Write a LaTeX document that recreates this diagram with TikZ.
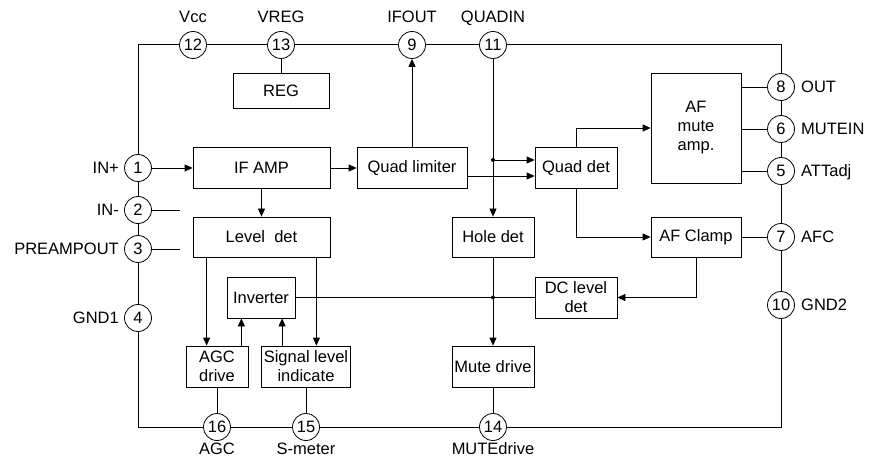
\documentclass[tikz,border=0pt]{standalone}
\usepackage{fontspec}
\setmainfont{Liberation Sans}
\usetikzlibrary{arrows.meta,calc}
\begin{document}
\begin{tikzpicture}[x=1pt,y=-1pt,
  every node/.style={font=\fontsize{16.5}{19}\selectfont},
  blk/.style={draw,line width=0.8pt,inner sep=0pt,align=center},
  pin/.style={draw,circle,fill=white,line width=0.8pt,minimum size=27pt,inner sep=0pt},
  lbl/.style={inner sep=0pt,text depth=0pt},
  con/.style={line width=0.8pt},
  arr/.style={con,-{Triangle[length=8pt,width=7pt]}},
  jdot/.style={circle,fill,inner sep=0pt,minimum size=4pt}]
\useasboundingbox (0,0) rectangle (870,465);
% frame
\draw[line width=1pt] (138,45) rectangle (781,427);
% pins
\node[pin] (p12) at (193,45) {12};
\node[pin] (p13) at (281,45) {13};
\node[pin] (p9) at (412,45) {9};
\node[pin] (p11) at (493,45) {11};
\node[pin] (p8) at (781,87) {8};
\node[pin] (p6) at (781,129) {6};
\node[pin] (p5) at (781,171) {5};
\node[pin] (p7) at (781,237) {7};
\node[pin] (p10) at (781,305) {10};
\node[pin] (p1) at (138,168) {1};
\node[pin] (p2) at (138,210) {2};
\node[pin] (p3) at (138,249) {3};
\node[pin] (p4) at (138,318) {4};
\node[pin] (p16) at (217,427) {16};
\node[pin] (p15) at (306,427) {15};
\node[pin] (p14) at (493,427) {14};
% pin labels
\node[lbl] (l12) at (193,17) {Vcc};
\node[lbl] (l13) at (281,17) {VREG};
\node[lbl] (l9) at (412,17) {IFOUT};
\node[lbl] (l11) at (493,17) {QUADIN};
\node[lbl,anchor=west] (l8) at (801,87) {OUT};
\node[lbl,anchor=west] (l6) at (801,129) {MUTEIN};
\node[lbl,anchor=west] (l5) at (801,171) {ATTadj};
\node[lbl,anchor=west] (l7) at (801,237) {AFC};
\node[lbl,anchor=west] (l10) at (801,305) {GND2};
\node[lbl,anchor=east] (l1) at (119,168) {IN+};
\node[lbl,anchor=east] (l2) at (119,210) {IN-};
\node[lbl,anchor=east] (l3) at (119,249) {PREAMPOUT};
\node[lbl,anchor=east] (l4) at (119,318) {GND1};
\node[lbl] (l16) at (217,449) {AGC};
\node[lbl] (l15) at (306,449) {S-meter};
\node[lbl] (l14) at (493,449) {MUTEdrive};
% blocks
\node[blk,minimum width=96pt,minimum height=35pt] (reg) at (281,90.5) {REG};
\node[blk,minimum width=137pt,minimum height=41pt] (ifamp) at (261.5,168) {IF AMP};
\node[blk,minimum width=137pt,minimum height=40pt] (lvl) at (261.5,237) {Level~~det};
\node[blk,minimum width=68pt,minimum height=41pt] (inv) at (261,297.5) {Inverter};
\node[blk,minimum width=110pt,minimum height=41pt] (qlim) at (412,168) {Quad limiter};
\node[blk,minimum width=82pt,minimum height=41pt] (qdet) at (576,168) {Quad det};
\node[blk,minimum width=82pt,minimum height=40pt] (hole) at (493,237) {Hole det};
\node[blk,minimum width=90pt,minimum height=40pt] (afc) at (696,237) {AF Clamp};
\node[blk,minimum width=82pt,minimum height=41pt] (dcl) at (576,297.5) {DC level\\det};
\node[blk,minimum width=90pt,minimum height=110pt] (afm) at (696,128) {AF\\mute\\amp.};
\node[blk,minimum width=62pt,minimum height=41pt] (agc) at (217,366.5) {AGC\\drive};
\node[blk,minimum width=89pt,minimum height=41pt] (sig) at (306,366.5) {Signal level\\indicate};
\node[blk,minimum width=82pt,minimum height=41pt] (mute) at (493,366.5) {Mute drive};
% helper coordinates
\coordinate (y176) at (0,176);
\coordinate (y160) at (0,160);
\coordinate (p2end) at (180,210);
\coordinate (p3end) at (180,249);
% connectors
\draw[con] (p13) -- (reg.north);
\draw[arr] (p1) -- (ifamp.west);
\draw[arr] (ifamp) -- (qlim.west);
\draw[arr] (ifamp) -- (lvl.north);
\draw[arr] (qlim) -- (p9);
\draw[arr] (qlim.east |- y176) -- (qdet.west |- y176);
\draw[arr] (p11) -- (hole.north);
\node[jdot] (d1) at (493,160) {};
\draw[arr] (d1.center) -- (d1 -| qdet.west);
\draw[arr] (qdet.north) |- (afm.west);
\draw[arr] (qdet.south) |- (afc.west);
\draw[con] (afc) -- (p7);
\draw[arr] (afc.south) |- (dcl.east);
\draw[con] (dcl.west) -- (inv.east);
\node[jdot] (d2) at (493,297.5) {};
\draw[arr] (hole) -- (mute.north);
\draw[con] (mute) -- (p14);
\draw[arr] ($(lvl.south west)+(14,0)$) coordinate (t1) -- (t1 |- agc.north);
\draw[arr] ($(lvl.south east)+(-14,0)$) coordinate (t2) -- (t2 |- sig.north);
\draw[arr] ($(agc.north east)+(-7,0)$) coordinate (t3) -- (t3 |- inv.south);
\draw[arr] ($(sig.north west)+(21,0)$) coordinate (t4) -- (t4 |- inv.south);
\draw[con] (agc) -- (p16);
\draw[con] (sig) -- (p15);
\draw[con] (p2) -- (p2end);
\draw[con] (p3) -- (p3end);
\draw[con] (afm.east |- p8) -- (p8);
\draw[con] (afm.east |- p6) -- (p6);
\draw[con] (afm.east |- p5) -- (p5);
\end{tikzpicture}
\end{document}
